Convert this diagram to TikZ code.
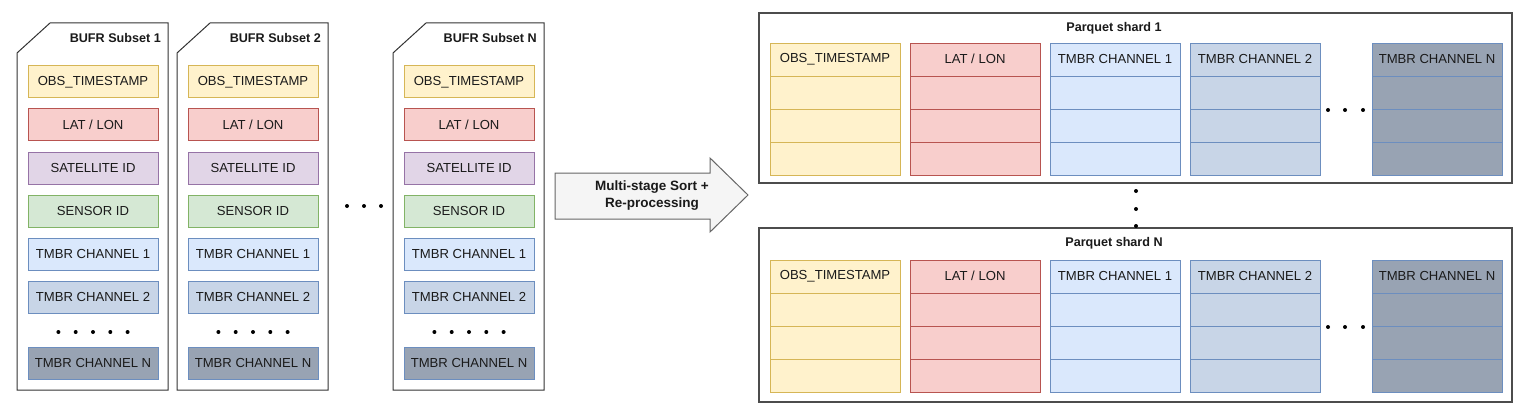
\documentclass[tikz,border=0pt]{standalone}
\usepackage{fontspec}
\setmainfont{Liberation Sans}
\definecolor{yelF}{HTML}{FFF2CC}\definecolor{yelD}{HTML}{D6B656}
\definecolor{redF}{HTML}{F8CECC}\definecolor{redD}{HTML}{B85450}
\definecolor{purF}{HTML}{E1D5E7}\definecolor{purD}{HTML}{9673A6}
\definecolor{grnF}{HTML}{D5E8D4}\definecolor{grnD}{HTML}{82B366}
\definecolor{bluF}{HTML}{DAE8FC}\definecolor{bluD}{HTML}{6C8EBF}
\definecolor{bl2F}{HTML}{C8D5E7}
\definecolor{blNF}{HTML}{98A3B3}
\definecolor{txt}{HTML}{1A1A1A}
\definecolor{arrF}{HTML}{F5F5F5}\definecolor{arrD}{HTML}{666666}
\begin{document}
\begin{tikzpicture}[x=1pt,y=-1pt,
  field/.style={draw, line width=1pt, minimum width=130pt, minimum height=32pt, inner sep=0pt, text=txt, font=\fontsize{13.1}{15}\selectfont},
  fy/.style={field, fill=yelF, draw=yelD},
  fr/.style={field, fill=redF, draw=redD},
  fp/.style={field, fill=purF, draw=purD},
  fg/.style={field, fill=grnF, draw=grnD},
  fb/.style={field, fill=bluF, draw=bluD},
  fb2/.style={field, fill=bl2F, draw=bluD},
  fbN/.style={field, fill=blNF, draw=bluD},
  cell/.style={minimum height=33pt},
  cardbox/.style={draw=black!80, line width=1pt, fill=white},
  shardbox/.style={draw=black!70, line width=1.3pt, fill=white},
  ttl/.style={font=\bfseries\fontsize{12.6}{15}\selectfont, text=txt, inner sep=0pt},
  dotmark/.style={fill=black}
]
\useasboundingbox (0,0) rectangle (1536,409);

% BUFR subset cards
\foreach \i/\x/\t in {1/17/1, 2/177/2, 3/393/N}{
  \draw[cardbox] (\x+33,23) -- (\x+151,23) -- (\x+151,390) -- (\x,390) -- (\x,53) -- cycle;
  \node[ttl, anchor=east] (ct\i) at (\x+144,38) {BUFR Subset \t};
  \node[fy] (obs\i) at (\x+76,82) {OBS\_TIMESTAMP};
  \node[fr] (lat\i) at (\x+76,125) {LAT / LON};
  \node[fp] (sat\i) at (\x+76,168) {SATELLITE ID};
  \node[fg] (sen\i) at (\x+76,211) {SENSOR ID};
  \node[fb] (ch1\i) at (\x+76,254) {TMBR CHANNEL 1};
  \node[fb2] (ch2\i) at (\x+76,297) {TMBR CHANNEL 2};
  \node[fbN] (chN\i) at (\x+76,363) {TMBR CHANNEL N};
  \foreach \k in {-2,...,2}{
    \fill[dotmark] (\x+76+\k*17.3,332) circle (2);
  }
}
% dots between cards
\foreach \xx in {347,364,381}{
  \fill[dotmark] (\xx,206) circle (2);
}

% process arrow
\draw[fill=arrF, draw=arrD, line width=1pt, line join=miter]
  (555,173) -- (710,173) -- (710,158) -- (748,195) -- (710,232) -- (710,219) -- (555,219) -- cycle;
\node[font=\bfseries\fontsize{13.5}{17}\selectfont, text=txt, align=center] (proc) at (652,196) {Multi-stage Sort +\\Re-processing};

% Parquet shards
\foreach \s/\yt/\yb/\cy/\t in {1/13/183/43/1, 2/228/402/260/N}{
  \draw[shardbox] (759,\yt) rectangle (1512,\yb);
  \node[ttl] (st\s) at (1114,\yt+15) {Parquet shard \t};
  \foreach \c/\cx/\sty/\lab in {a/770/fy/{OBS\_TIMESTAMP}, b/910/fr/{LAT / LON}, c/1050/fb/{TMBR CHANNEL 1}, d/1190/fb2/{TMBR CHANNEL 2}, e/1372/fbN/{TMBR CHANNEL N}}{
    \node[\sty, cell, anchor=north west] (h\s\c) at (\cx,\cy) {};
    \node[text=txt, font=\fontsize{13.1}{15}\selectfont, inner sep=0pt] (l\s\c) at (\cx+65,\cy+16) {\lab};
    \node[\sty, cell, anchor=north west] (r\s\c1) at (\cx,\cy+33) {};
    \node[\sty, cell, anchor=north west] (r\s\c2) at (\cx,\cy+66) {};
    \node[\sty, cell, anchor=north west] (r\s\c3) at (\cx,\cy+99) {};
  }
  \foreach \xx in {1328,1345,1363}{
    \fill[dotmark] (\xx,\cy+67) circle (2);
  }
}
% vertical dots between shards
\foreach \yy in {191,209,226}{
  \fill[dotmark] (1136,\yy) circle (2);
}
\end{tikzpicture}
\end{document}
